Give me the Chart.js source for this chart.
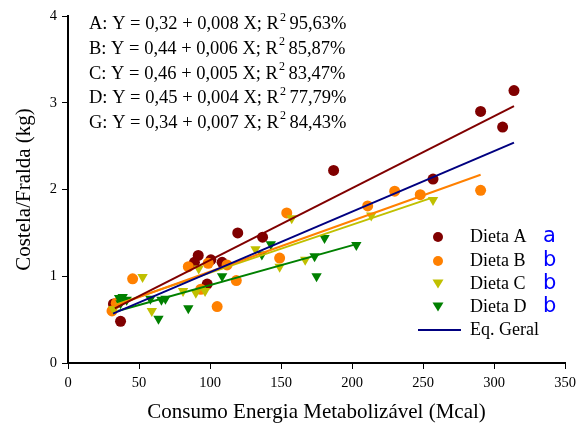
<!DOCTYPE html>
<html>
<head>
<meta charset="utf-8">
<script src="https://cdn.jsdelivr.net/npm/chart.js@4.4.1/dist/chart.umd.min.js"></script>
<style>
  body { margin: 0; background: #fff; }
  #wrap { width: 581px; height: 431px; }
</style>
</head>
<body>
<div id="wrap"><canvas id="grafico" width="581" height="431"></canvas></div>
<script>
// Dados
var dietaA_x = [37, 32, 89, 91.7, 100.6, 108.5, 98, 119.5, 137, 187, 257, 290.5, 306, 314];
var dietaA_y = [0.48, 0.68, 1.16, 1.24, 1.19, 1.16, 0.91, 1.50, 1.45, 2.22, 2.12, 2.90, 2.72, 3.14];

var dietaB_x = [31, 34, 45.5, 84.7, 93.5, 98.7, 105, 112, 118.5, 149, 154, 211, 230, 248, 290.5];
var dietaB_y = [0.60, 0.69, 0.97, 1.11, 0.85, 1.15, 0.65, 1.13, 0.95, 1.21, 1.73, 1.81, 1.98, 1.94, 1.99];

var dietaC_x = [32, 52.5, 59, 81, 90, 92, 96.5, 132, 149, 157.5, 167, 213.5, 257];
var dietaC_y = [0.62, 0.99, 0.60, 0.83, 0.81, 1.09, 0.83, 1.31, 1.11, 1.67, 1.19, 1.70, 1.88];

var dietaD_x = [36, 37, 38.5, 41.3, 58, 63.7, 65.8, 68.6, 84.7, 108.5, 136.5, 142.8, 173.6, 175, 180.6, 203];
var dietaD_y = [0.75, 0.69, 0.76, 0.73, 0.74, 0.51, 0.73, 0.74, 0.63, 1.00, 1.25, 1.37, 1.23, 1.00, 1.44, 1.36];

// Retas ajustadas (extremos)
var retaA_x = [33, 314];   var retaA_y = [0.63, 2.96];
var retaB_x = [33, 290.5]; var retaB_y = [0.66, 2.17];
var retaC_x = [33, 255.5]; var retaC_y = [0.67, 1.90];
var retaD_x = [35, 203];   var retaD_y = [0.60, 1.37];
var retaG_x = [31.7, 314]; var retaG_y = [0.57, 2.54];

var equacoes = [
  ["A: Y = 0,32 + 0,008 X; R", "95,63%"],
  ["B: Y = 0,44 + 0,006 X; R", "85,87%"],
  ["C: Y = 0,46 + 0,005 X; R", "83,47%"],
  ["D: Y = 0,45 + 0,004 X; R", "77,79%"],
  ["G: Y = 0,34 + 0,007 X; R", "84,43%"]
];
var legendas = ["Dieta A", "Dieta B", "Dieta C", "Dieta D", "Eq. Geral"];
var letras = ["a", "b", "b", "b"];

var corA = '#800000', corB = '#ff8000', corC = '#c0c000', corD = '#008000', corG = '#000080';

function pts(xs, ys) {
  return xs.map(function (x, i) { return { x: x, y: ys[i] }; });
}

function reta(xs, ys, cor, ordem) {
  return {
    type: 'line', data: pts(xs, ys), borderColor: cor, borderWidth: 2,
    pointRadius: 0, fill: false, order: ordem
  };
}

function pontos(xs, ys, cor, estilo, ordem) {
  return {
    type: 'scatter', data: pts(xs, ys), backgroundColor: cor, borderColor: cor,
    borderWidth: 0, pointStyle: estilo, pointRotation: estilo == 'triangle' ? 180 : 0,
    pointRadius: estilo == 'triangle' ? 6 : 5.5, order: ordem
  };
}

// Textos: equações e legenda
var textos = {
  id: 'textos',
  afterDraw: function (chart) {
    var c = chart.ctx;
    c.save();
    c.fillStyle = '#000';
    c.textBaseline = 'middle';
    c.textAlign = 'left';
    equacoes.forEach(function (e, i) {
      var y = 24.5 + i * 24.7;
      c.font = '18.5px "Liberation Serif"';
      c.fillText(e[0], 89, y);
      var w = c.measureText(e[0]).width;
      c.font = '12px "Liberation Serif"';
      c.fillText("2", 89 + w + 1, y - 7);
      c.font = '18.5px "Liberation Serif"';
      c.fillText(e[1], 89 + w + 10.5, y);
    });

    var cores = [corA, corB, corC, corD];
    var ys = [237, 261, 284, 307, 330];
    for (var i = 0; i < 4; i++) {
      c.fillStyle = cores[i];
      if (i < 2) {
        c.beginPath(); c.arc(438, ys[i], 5, 0, Math.PI * 2); c.fill();
      } else {
        c.beginPath();
        c.moveTo(432.5, ys[i] - 4.5); c.lineTo(443.5, ys[i] - 4.5); c.lineTo(438, ys[i] + 4.5);
        c.closePath(); c.fill();
      }
    }
    c.strokeStyle = corG; c.lineWidth = 2;
    c.beginPath(); c.moveTo(418, 330); c.lineTo(461, 330); c.stroke();

    c.fillStyle = '#000';
    c.font = '18px "Liberation Serif"';
    legendas.forEach(function (t, i) { c.fillText(t, 470, ys[i]); });

    c.fillStyle = '#0000ff';
    c.font = '21px "DejaVu Sans"';
    letras.forEach(function (t, i) { c.fillText(t, 543, ys[i]); });
    c.restore();
  }
};

var ctx = document.getElementById("grafico").getContext('2d');
var grafico = new Chart(ctx, {
  data: {
    datasets: [
      reta(retaG_x, retaG_y, corG, 0),
      reta(retaA_x, retaA_y, corA, 1),
      reta(retaB_x, retaB_y, corB, 2),
      reta(retaC_x, retaC_y, corC, 3),
      reta(retaD_x, retaD_y, corD, 4),
      pontos(dietaD_x, dietaD_y, corD, 'triangle', 5),
      pontos(dietaC_x, dietaC_y, corC, 'triangle', 6),
      pontos(dietaB_x, dietaB_y, corB, 'circle', 7),
      pontos(dietaA_x, dietaA_y, corA, 'circle', 8)
    ]
  },
  options: {
    responsive: false,
    animation: false,
    layout: { padding: { top: 16, right: 13, bottom: 0, left: 0 } },
    plugins: { legend: { display: false }, tooltip: { enabled: false } },
    scales: {
      x: {
        type: 'linear', min: 0, max: 350,
        afterFit: function (s) { s.height = 68; },
        ticks: { stepSize: 50, color: '#000', padding: 5, font: { family: 'Liberation Serif', size: 14.5 } },
        grid: { display: true, drawOnChartArea: false, drawTicks: true, tickLength: 6, color: '#000' },
        border: { color: '#000', width: 2 },
        title: { display: true, text: 'Consumo Energia Metabolizável (Mcal)', color: '#000',
                 font: { family: 'Liberation Serif', size: 21 }, padding: { top: 0, bottom: 6 } }
      },
      y: {
        type: 'linear', min: 0, max: 4,
        afterFit: function (s) { s.width = 68; },
        ticks: { stepSize: 1, color: '#000', padding: 5, font: { family: 'Liberation Serif', size: 14.5 } },
        grid: { display: true, drawOnChartArea: false, drawTicks: true, tickLength: 6, color: '#000' },
        border: { color: '#000', width: 2 },
        title: { display: true, text: 'Costela/Fralda (kg)', color: '#000',
                 font: { family: 'Liberation Serif', size: 21 }, padding: { top: 12, bottom: 0 } }
      }
    }
  },
  plugins: [textos]
});
</script>
</body>
</html>
